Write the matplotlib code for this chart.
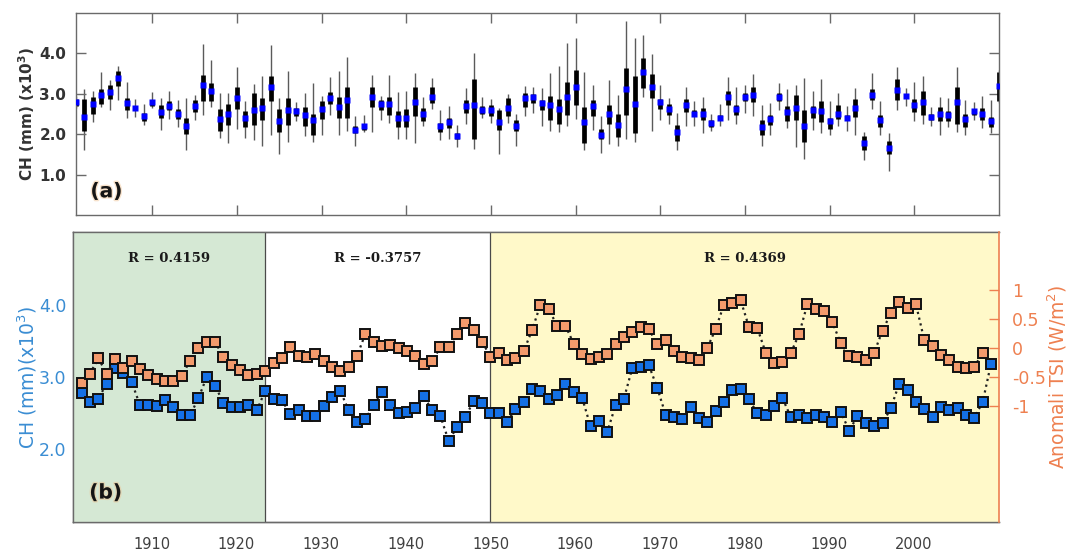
import numpy as np
import matplotlib
matplotlib.use('Agg')
import matplotlib.pyplot as plt
import matplotlib.patheffects as pe
from matplotlib.transforms import blended_transform_factory

# ---------------- data ----------------
years = np.arange(1901, 2011)

ch_median = [2.79, 2.43, 2.75, 2.98, 3.04, 3.39, 2.77, 2.65, 2.44, 2.80,
             2.56, 2.70, 2.51, 2.21, 2.70, 3.22, 3.08, 2.37, 2.51, 2.90,
             2.39, 2.61, 2.65, 3.16, 2.33, 2.59, 2.58, 2.47, 2.34, 2.63,
             2.89, 2.68, 2.84, 2.11, 2.20, 2.92, 2.74, 2.75, 2.39, 2.41,
             2.79, 2.51, 2.93, 2.20, 2.30, 1.96, 2.70, 2.72, 2.61, 2.61,
             2.30, 2.65, 2.20, 2.89, 2.91, 2.78, 2.72, 2.62, 2.92, 3.18,
             2.31, 2.69, 1.99, 2.51, 2.23, 3.11, 2.75, 3.55, 3.16, 2.79,
             2.62, 2.05, 2.72, 2.51, 2.51, 2.27, 2.41, 2.92, 2.63, 2.93,
             2.98, 2.17, 2.38, 2.92, 2.55, 2.66, 2.20, 2.59, 2.57, 2.32,
             2.51, 2.41, 2.64, 1.79, 2.98, 2.36, 1.66, 3.10, 2.95, 2.72,
             2.80, 2.43, 2.49, 2.47, 2.79, 2.38, 2.57, 2.49, 2.32, 3.20]
ch_q3 = [2.88, 2.87, 2.92, 3.11, 3.22, 3.57, 2.89, 2.70, 2.52, 2.85,
         2.73, 2.81, 2.62, 2.39, 2.84, 3.46, 3.26, 2.63, 2.75, 3.16,
         2.57, 3.02, 2.89, 3.44, 2.62, 2.89, 2.65, 2.67, 2.49, 2.83,
         3.04, 2.92, 3.18, 2.21, 2.26, 3.16, 2.84, 2.92, 2.57, 2.62,
         3.18, 2.65, 3.16, 2.28, 2.40, 2.02, 2.85, 3.36, 2.70, 2.73,
         2.59, 2.89, 2.36, 3.03, 3.00, 2.85, 2.95, 2.87, 3.30, 3.59,
         2.67, 2.85, 2.13, 2.73, 2.50, 3.63, 3.43, 3.88, 3.49, 2.87,
         2.75, 2.24, 2.88, 2.59, 2.65, 2.36, 2.47, 3.08, 2.73, 3.03,
         3.16, 2.36, 2.48, 3.03, 2.69, 2.97, 2.61, 2.70, 2.81, 2.40,
         2.73, 2.48, 2.88, 1.95, 3.12, 2.48, 1.83, 3.36, 3.00, 2.88,
         3.07, 2.51, 2.67, 2.57, 3.18, 2.51, 2.62, 2.65, 2.43, 3.55]
ch_q1 = [2.70, 2.07, 2.50, 2.75, 2.87, 3.20, 2.61, 2.60, 2.32, 2.70,
         2.39, 2.59, 2.38, 2.00, 2.54, 2.81, 2.83, 2.08, 2.22, 2.62,
         2.19, 2.22, 2.34, 2.83, 2.05, 2.24, 2.46, 2.21, 1.97, 2.38,
         2.75, 2.39, 2.39, 2.03, 2.11, 2.67, 2.59, 2.48, 2.18, 2.18,
         2.44, 2.32, 2.77, 2.06, 2.16, 1.89, 2.52, 1.89, 2.49, 2.46,
         2.10, 2.46, 2.09, 2.67, 2.77, 2.59, 2.36, 2.26, 2.48, 2.73,
         1.77, 2.44, 1.89, 2.25, 1.93, 2.48, 2.02, 3.14, 2.89, 2.62,
         2.48, 1.83, 2.54, 2.44, 2.36, 2.18, 2.34, 2.73, 2.48, 2.81,
         2.79, 1.99, 2.24, 2.81, 2.32, 2.34, 1.80, 2.40, 2.30, 2.13,
         2.38, 2.34, 2.42, 1.61, 2.85, 2.18, 1.52, 2.85, 2.89, 2.54,
         2.48, 2.34, 2.32, 2.32, 2.26, 2.18, 2.48, 2.34, 2.18, 2.81]
ch_max = [2.95, 3.12, 3.07, 3.53, 3.34, 3.69, 3.29, 2.87, 2.75, 3.05,
          2.89, 3.08, 2.84, 2.89, 2.96, 4.23, 3.84, 3.03, 3.03, 3.67,
          2.82, 3.24, 3.45, 4.20, 2.89, 3.57, 2.80, 3.03, 3.26, 2.95,
          3.41, 3.57, 3.90, 2.46, 2.47, 3.47, 2.95, 3.47, 3.05, 3.08,
          3.51, 2.92, 3.38, 2.59, 2.69, 2.24, 3.14, 4.02, 2.92, 2.88,
          2.65, 3.00, 2.51, 3.20, 3.18, 3.14, 3.52, 3.69, 4.25, 4.39,
          3.53, 3.22, 2.44, 3.34, 2.98, 4.80, 4.37, 4.45, 3.98, 3.22,
          2.89, 2.52, 3.18, 2.83, 2.92, 2.51, 2.75, 3.41, 3.16, 3.22,
          3.49, 2.73, 2.77, 3.26, 3.11, 3.22, 3.39, 3.08, 3.36, 2.81,
          3.03, 2.69, 3.14, 2.06, 3.52, 2.81, 2.02, 3.66, 3.14, 3.28,
          3.43, 2.67, 2.92, 2.89, 3.66, 2.85, 2.79, 2.95, 2.85, 3.59]
ch_min = [2.65, 1.62, 2.30, 2.67, 2.59, 2.85, 2.39, 2.43, 2.22, 2.65,
          2.10, 2.38, 2.18, 1.62, 2.34, 2.48, 2.67, 1.90, 1.79, 2.13,
          1.91, 1.85, 1.72, 1.97, 1.52, 1.81, 2.32, 1.95, 1.80, 1.99,
          2.48, 1.99, 2.07, 1.72, 2.05, 2.06, 2.36, 2.28, 1.89, 1.89,
          1.77, 2.21, 2.62, 1.85, 1.89, 1.69, 2.26, 1.64, 2.40, 2.28,
          1.50, 2.28, 1.72, 2.44, 2.52, 2.21, 2.07, 2.05, 2.20, 2.38,
          1.61, 2.11, 1.54, 1.75, 1.72, 1.87, 1.81, 2.93, 2.07, 2.36,
          2.26, 1.60, 2.21, 2.21, 2.03, 2.07, 2.21, 2.34, 2.26, 2.52,
          2.44, 1.72, 1.97, 2.59, 2.16, 1.69, 1.39, 2.10, 2.03, 1.99,
          2.21, 2.07, 1.97, 1.35, 2.62, 1.97, 1.09, 2.59, 2.70, 2.32,
          2.26, 2.20, 1.97, 2.18, 2.05, 1.97, 2.36, 2.16, 2.03, 2.77]

ch_series = [2.78, 2.65, 2.70, 2.91, 3.13, 3.06, 2.93, 2.61, 2.62, 2.60,
             2.68, 2.59, 2.47, 2.47, 2.71, 3.00, 2.88, 2.64, 2.59, 2.59,
             2.62, 2.54, 2.81, 2.70, 2.68, 2.49, 2.54, 2.46, 2.46, 2.60,
             2.73, 2.81, 2.54, 2.38, 2.42, 2.61, 2.79, 2.61, 2.50, 2.52,
             2.57, 2.74, 2.54, 2.46, 2.12, 2.31, 2.45, 2.67, 2.64, 2.50,
             2.51, 2.38, 2.56, 2.65, 2.84, 2.81, 2.70, 2.75, 2.90, 2.80,
             2.71, 2.32, 2.40, 2.24, 2.61, 2.70, 3.12, 3.14, 3.16, 2.85,
             2.48, 2.45, 2.42, 2.58, 2.43, 2.38, 2.53, 2.65, 2.82, 2.84,
             2.69, 2.50, 2.48, 2.60, 2.71, 2.45, 2.48, 2.44, 2.48, 2.45,
             2.38, 2.52, 2.26, 2.46, 2.36, 2.32, 2.36, 2.57, 2.91, 2.82,
             2.65, 2.56, 2.45, 2.58, 2.54, 2.57, 2.47, 2.44, 2.65, 3.18]

tsi_years = np.arange(1901, 2010)
tsi_series = [-0.60, -0.44, -0.18, -0.44, -0.19, -0.34, -0.23, -0.37, -0.46, -0.53,
              -0.57, -0.57, -0.48, -0.22, 0.00, 0.11, 0.10, -0.15, -0.29, -0.38,
              -0.47, -0.44, -0.40, -0.25, -0.18, 0.02, -0.13, -0.16, -0.10, -0.22,
              -0.33, -0.40, -0.33, -0.14, 0.24, 0.11, 0.04, 0.05, 0.00, -0.05,
              -0.13, -0.28, -0.22, 0.01, 0.02, 0.24, 0.43, 0.31, 0.11, -0.15,
              -0.09, -0.21, -0.18, -0.05, 0.31, 0.75, 0.67, 0.38, 0.38, 0.07,
              -0.10, -0.19, -0.16, -0.10, 0.07, 0.19, 0.27, 0.37, 0.32, 0.07,
              0.13, -0.06, -0.15, -0.18, -0.20, 0.00, 0.33, 0.75, 0.77, 0.82,
              0.36, 0.34, -0.08, -0.25, -0.24, -0.09, 0.24, 0.76, 0.67, 0.64,
              0.44, 0.08, -0.13, -0.15, -0.21, -0.08, 0.30, 0.60, 0.80, 0.69,
              0.76, 0.14, 0.04, -0.12, -0.21, -0.32, -0.34, -0.33, -0.08]

decade_ticks = [1910, 1920, 1930, 1940, 1950, 1960, 1970, 1980, 1990, 2000]
top_yticks = [1.0, 2.0, 3.0, 4.0]
top_yticklabels = ['1.0', '2.0', '3.0', '4.0']
ch_yticks = [2.0, 3.0, 4.0]
ch_yticklabels = ['2.0', '3.0', '4.0']
tsi_yticks = [-1, -0.5, 0, 0.5, 1]
tsi_yticklabels = ['-1', '-0.5', '0', '0.5', '1']

period_edges = [1900, 1923, 1950, 2011]
period_colors = ['#d5e8d4', 'none', '#fff9c9']
period_r = ['R = 0.4159', 'R = -0.3757', 'R = 0.4369']

# ---------------- style ----------------
BLUE_TXT = '#3a8dd3'
ORANGE_TXT = '#ee8050'
BLUE_FILL = '#1470e6'
ORANGE_FILL = '#f39a6c'
GRAY = '#6a6a6a'
DARK = '#333333'

fig = plt.figure(figsize=(10.78, 5.53), dpi=100)

# ---------------- panel (a) ----------------
ax_t = fig.add_axes([76 / 1078, 1 - 215 / 553, 923 / 1078, 202 / 553])
ax_t.vlines(years, ch_min, ch_max, color='#5a5a5a', lw=1.0, zorder=1)
ax_t.vlines(years, ch_q1, ch_q3, color='black', lw=3.4, zorder=2)
ax_t.plot(years, ch_median, 's', color='#0000ff', ms=4.6, mec='none', zorder=3)
ax_t.set_xlim(1901, 2010)
ax_t.set_ylim(0, 5)
ax_t.set_xticks(decade_ticks)
ax_t.set_xticklabels([])
ax_t.set_yticks(top_yticks)
ax_t.set_yticklabels(top_yticklabels, fontweight='bold', fontsize=11, color=DARK)
ax_t.tick_params(direction='in', length=7, width=1, color=GRAY,
                 top=True, right=True, pad=7)
for s in ax_t.spines.values():
    s.set_color(GRAY)
    s.set_linewidth(1.0)
ax_t.set_ylabel(r'CH (mm) (x10$^{\mathbf{3}}$)', fontweight='bold', fontsize=11,
                color=DARK, labelpad=1.5)
glow = [pe.withStroke(linewidth=2.0, foreground='#efc08e', alpha=0.45)]
ax_t.text(0.033, 0.115, '(a)', transform=ax_t.transAxes, fontsize=14.5,
          fontweight='bold', color='#151515', ha='center', va='center',
          path_effects=glow)

# ---------------- panel (b) ----------------
pos_b = [73.3 / 1078, 1 - 522 / 553, 926 / 1078, 290 / 553]
ax_b = fig.add_axes(pos_b)
ax_b.set_xlim(1900.74, 2010.07)
ax_b.set_ylim(1, 5)
ax_b.set_xticks(decade_ticks)
ax_b.set_xticklabels([str(t) for t in decade_ticks], fontsize=10.5, color='#404040')
ax_b.set_yticks(ch_yticks)
ax_b.set_yticklabels(ch_yticklabels, fontsize=12.5, color=BLUE_TXT)
ax_b.tick_params(axis='x', length=0, pad=11)
ax_b.tick_params(axis='y', length=0, pad=5)
ax_b.set_ylabel(r'CH (mm)(x10$^3$)', fontsize=13.5, color=BLUE_TXT, labelpad=0)
for s in ax_b.spines.values():
    s.set_color(GRAY)
    s.set_linewidth(1.0)
ax_b.spines['right'].set_visible(False)

# series axis (years of the series)
ax_p = ax_b.twiny()
ax_p.set_xlim(period_edges[0], period_edges[-1])
ax_p.tick_params(axis='x', which='both', top=False, labeltop=False,
                 bottom=False, labelbottom=False)
for s in ax_p.spines.values():
    s.set_color(GRAY)
    s.set_linewidth(1.0)
ax_p.spines['right'].set_visible(False)

for i in range(len(period_r)):
    x0, x1 = period_edges[i], period_edges[i + 1]
    if period_colors[i] != 'none':
        ax_p.axvspan(x0, x1, color=period_colors[i], lw=0, zorder=0)
    tr = blended_transform_factory(ax_p.transData, ax_p.transAxes)
    ax_p.text((x0 + x1) / 2, 0.91, period_r[i], transform=tr,
              family='DejaVu Serif', fontweight='bold', fontsize=9.5,
              color='#1a1a1a', ha='center', va='center')
for xb in period_edges[1:-1]:
    ax_p.axvline(xb, color='#4a4a4a', lw=0.9, zorder=1)

ax_p.plot(years, ch_series, linestyle=':', color='#222222', lw=1.6,
          marker='s', ms=6.8, mfc=BLUE_FILL, mec='#111111', mew=1.4, zorder=3)

ax_r = ax_p.twinx()
ax_r.plot(tsi_years, tsi_series, linestyle=':', color='#222222', lw=1.6,
          marker='s', ms=6.8, mfc=ORANGE_FILL, mec='#111111', mew=1.4, zorder=3)
ax_r.set_ylim(-3, 2)
ax_r.set_yticks(tsi_yticks)
ax_r.set_yticklabels(tsi_yticklabels, fontsize=12.5, color=ORANGE_TXT)
ax_r.tick_params(axis='y', direction='in', length=7, width=1, color=ORANGE_TXT,
                 pad=9)
ax_r.set_ylabel(r'Anomali TSI (W/m$^2$)', fontsize=13.5, color=ORANGE_TXT,
                labelpad=0)
for k, s in ax_r.spines.items():
    if k == 'right':
        s.set_color(ORANGE_TXT)
        s.set_linewidth(1.2)
    else:
        s.set_visible(False)

ax_r.text(0.035, 0.10, '(b)', transform=ax_r.transAxes, fontsize=14.5,
          fontweight='bold', color='#151515', ha='center', va='center',
          path_effects=glow)

fig.savefig('out.png', dpi=100)
